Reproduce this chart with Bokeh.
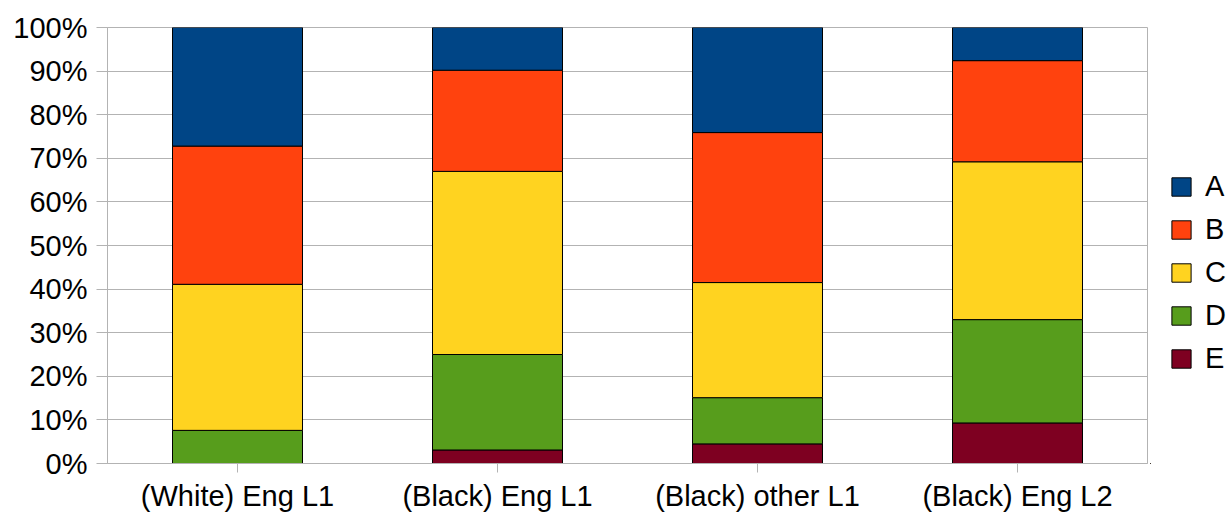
from bokeh.plotting import figure
from bokeh.layouts import row
from bokeh.models import (ColumnDataSource, FactorRange, Range1d, FixedTicker,
                          PrintfTickFormatter, Legend, LegendItem)
from bokeh.embed import file_html
from bokeh.resources import INLINE

# Share of each group (percent), stacked from E at the bottom to A at the top
groups = ["(White) Eng L1", "(Black) Eng L1", "(Black) other L1", "(Black) Eng L2"]
series_a = [27.2, 9.8, 24.1, 7.6]
series_b = [31.7, 23.2, 34.4, 23.2]
series_c = [33.5, 42.0, 26.4, 36.2]
series_d = [7.6, 21.9, 10.6, 23.7]
series_e = [0.0, 3.1, 4.5, 9.3]
y_ticks = [0, 10, 20, 30, 40, 50, 60, 70, 80, 90, 100]

series_names = ["A", "B", "C", "D", "E"]
colors = {"A": "#004586", "B": "#ff420e", "C": "#ffd320", "D": "#579d1c", "E": "#7e0021"}

source = ColumnDataSource(dict(group=groups, A=series_a, B=series_b, C=series_c,
                               D=series_d, E=series_e))

FONT = "Liberation Sans"
FONT_SIZE = "29px"
GRID = "#b3b3b3"

# Main chart: stacked 100% columns
p = figure(width=1150, height=517, x_range=FactorRange(*groups, range_padding=0),
           y_range=Range1d(0, 100), output_backend="svg", toolbar_location=None,
           min_border_left=107, min_border_right=3, min_border_top=27,
           min_border_bottom=54)
p.background_fill_color = "white"
p.border_fill_color = "white"
p.outline_line_color = GRID
p.outline_line_width = 1

stack_order = ["E", "D", "C", "B", "A"]
p.vbar_stack(stack_order, x="group", width=0.5, source=source,
             fill_color=[colors[s] for s in stack_order],
             line_color="black", line_width=1)

p.xgrid.grid_line_color = None
p.ygrid.grid_line_color = GRID
p.ygrid.grid_line_width = 1
p.ygrid.ticker = FixedTicker(ticks=y_ticks)

p.yaxis.ticker = FixedTicker(ticks=y_ticks)
p.yaxis.formatter = PrintfTickFormatter(format="%d%%")
p.yaxis.axis_line_color = GRID
p.yaxis.major_tick_line_color = GRID
p.yaxis.major_tick_out = 11
p.yaxis.major_tick_in = 0
p.yaxis.minor_tick_line_color = None
p.yaxis.major_label_standoff = 9
p.yaxis.major_label_text_font = FONT
p.yaxis.major_label_text_font_size = FONT_SIZE
p.yaxis.major_label_text_color = "black"

p.xaxis.axis_line_color = GRID
p.xaxis.major_tick_line_color = GRID
p.xaxis.major_tick_out = 9
p.xaxis.major_tick_in = 0
p.xaxis.minor_tick_line_color = None
p.xaxis.major_label_standoff = 7
p.xaxis.major_label_text_font = FONT
p.xaxis.major_label_text_font_size = FONT_SIZE
p.xaxis.major_label_text_color = "black"

# Side panel holding the legend; each swatch renderer sits outside its visible range
lg = figure(width=79, height=517, output_backend="svg", toolbar_location=None,
            x_axis_type=None, y_axis_type=None, min_border=0,
            x_range=Range1d(0, 1), y_range=Range1d(0, 1))
lg.outline_line_color = None
lg.background_fill_color = "white"
lg.border_fill_color = "white"
lg.xgrid.grid_line_color = None
lg.ygrid.grid_line_color = None

swatches = {}
for s in series_names:
    swatches[s] = lg.vbar(x=[-5], top=[-5], bottom=[-6], width=0.5, fill_color=colors[s],
                          line_color="black", line_width=1)

legend = Legend(items=[LegendItem(label=s, renderers=[swatches[s]]) for s in series_names],
                location=(19, 88), orientation="vertical",
                glyph_width=24, glyph_height=23, label_height=23,
                spacing=10, padding=0, margin=0, label_standoff=12,
                label_text_font=FONT, label_text_font_size=FONT_SIZE,
                label_text_color="black", border_line_color=None,
                background_fill_alpha=0)
lg.add_layout(legend, "center")

layout = row(p, lg)
open("out.html", "w").write(file_html(layout, INLINE))
